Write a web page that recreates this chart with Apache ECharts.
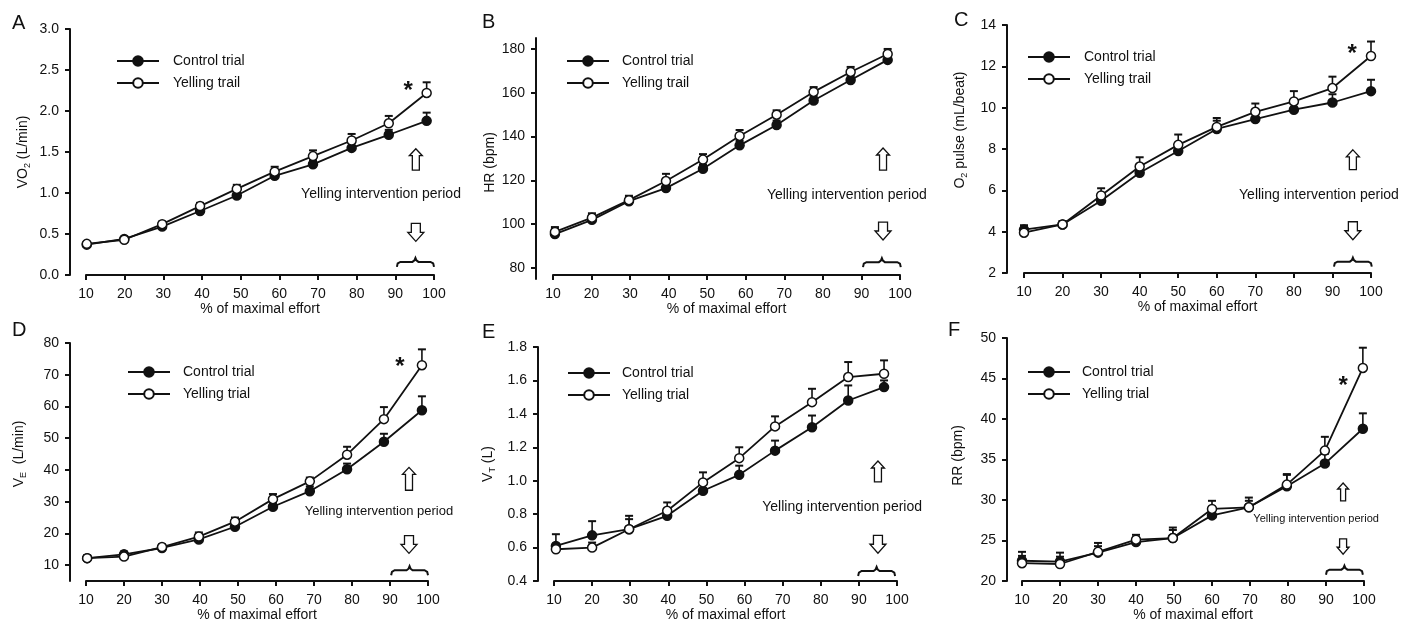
<!DOCTYPE html>
<html><head><meta charset="utf-8">
<script src="https://cdn.jsdelivr.net/npm/echarts@6/dist/echarts.min.js"></script>
<style>html,body{margin:0;padding:0;background:#fff}#c{width:1403px;height:623px}</style>
</head><body><div id="c"></div>
<script>
// ---------- DATA ----------
// Panel A: VO2 (L/min)
const A_x = [10.2, 19.9, 29.7, 39.5, 49.0, 58.8, 68.7, 78.7, 88.3, 98.1];
const A_control = [0.37, 0.44, 0.59, 0.78, 0.97, 1.21, 1.35, 1.55, 1.71, 1.88];
const A_controlSE = [0.02, 0.02, 0.03, 0.03, 0.04, 0.05, 0.05, 0.06, 0.06, 0.10];
const A_yelling = [0.38, 0.43, 0.62, 0.84, 1.05, 1.26, 1.45, 1.64, 1.85, 2.22];
const A_yellingSE = [0.02, 0.02, 0.03, 0.04, 0.05, 0.06, 0.07, 0.08, 0.09, 0.13];
const A_yTicks = [0, 0.5, 1.0, 1.5, 2.0, 2.5, 3.0];

// Panel B: HR (bpm)
const B_x = [10.5, 20.1, 29.7, 39.3, 48.9, 58.4, 68.0, 77.6, 87.2, 96.8];
const B_control = [95.5, 102.0, 110.5, 116.5, 125.3, 136.0, 145.3, 156.5, 165.8, 175.0];
const B_controlSE = [2.5, 2.0, 2.0, 2.0, 2.0, 2.0, 2.0, 2.0, 2.0, 2.0];
const B_yelling = [96.5, 103.0, 111.0, 119.7, 129.5, 140.3, 150.0, 160.4, 169.5, 177.7];
const B_yellingSE = [2.2, 2.0, 2.0, 3.3, 2.5, 2.7, 2.0, 2.2, 2.3, 2.3];
const B_yTicks = [80, 100, 120, 140, 160, 180];

// Panel C: O2 pulse (mL/beat)
const C_x = [10, 20, 30, 40, 50, 60, 70, 80, 90, 100];
const C_control = [4.10, 4.35, 5.50, 6.85, 7.90, 8.97, 9.45, 9.90, 10.25, 10.80];
const C_controlSE = [0.20, 0.15, 0.30, 0.40, 0.40, 0.53, 0.40, 0.40, 0.40, 0.55];
const C_yelling = [3.95, 4.35, 5.75, 7.15, 8.20, 9.07, 9.80, 10.30, 10.95, 12.50];
const C_yellingSE = [0.35, 0.15, 0.35, 0.45, 0.50, 0.30, 0.40, 0.50, 0.55, 0.70];
const C_yTicks = [2, 4, 6, 8, 10, 12, 14];

// Panel D: VE (L/min)
const D_x = [10.3, 20.0, 30.0, 39.7, 49.2, 59.2, 68.9, 78.7, 88.4, 98.4];
const D_control = [12.2, 13.4, 15.4, 18.1, 22.1, 28.4, 33.3, 40.2, 48.9, 58.8];
const D_controlSE = [0.8, 0.9, 0.8, 1.0, 1.2, 1.5, 1.5, 1.8, 2.5, 4.4];
const D_yelling = [12.2, 12.7, 15.7, 19.0, 23.7, 30.8, 36.4, 44.8, 56.0, 73.0];
const D_yellingSE = [0.8, 0.9, 0.8, 1.3, 1.3, 1.6, 1.2, 2.5, 3.8, 5.0];
const D_yTicks = [10, 20, 30, 40, 50, 60, 70, 80];

// Panel E: VT (L)
const E_x = [10.5, 20.0, 29.7, 39.7, 49.1, 58.6, 68.0, 77.7, 87.2, 96.6];
const E_control = [0.61, 0.673, 0.71, 0.79, 0.94, 1.035, 1.18, 1.32, 1.48, 1.56];
const E_controlSE = [0.07, 0.085, 0.06, 0.04, 0.04, 0.055, 0.06, 0.07, 0.09, 0.04];
const E_yelling = [0.59, 0.60, 0.71, 0.82, 0.99, 1.135, 1.325, 1.47, 1.62, 1.64];
const E_yellingSE = [0.03, 0.03, 0.08, 0.05, 0.06, 0.065, 0.06, 0.08, 0.09, 0.08];
const E_yTicks = [0.4, 0.6, 0.8, 1.0, 1.2, 1.4, 1.6, 1.8];

// Panel F: RR (bpm)
const F_x = [10, 20, 30, 40, 49.7, 60, 69.7, 79.7, 89.7, 99.7];
const F_control = [22.5, 22.4, 23.5, 24.8, 25.3, 28.1, 29.1, 31.7, 34.5, 38.8];
const F_controlSE = [1.1, 1.1, 0.8, 0.6, 1.3, 0.7, 0.8, 1.5, 1.2, 1.9];
const F_yelling = [22.2, 22.1, 23.6, 25.1, 25.3, 28.9, 29.1, 31.9, 36.1, 46.3];
const F_yellingSE = [0.9, 0.9, 1.1, 0.6, 1.0, 1.0, 1.2, 1.2, 1.7, 2.5];
const F_yTicks = [20, 25, 30, 35, 40, 45, 50];

const xTicks = [10, 20, 30, 40, 50, 60, 70, 80, 90, 100];
const xTitle = '% of maximal effort';
const controlName = 'Control trial';
const annText = 'Yelling intervention period';

// ---------- LAYOUT ----------
const FONT = '"Liberation Sans", Arial, Helvetica, sans-serif';
const INK = '#111';
const panels = [
  {letter:'A', lp:[12,13], x:A_x, c:A_control, cSE:A_controlSE, y:A_yelling, ySE:A_yellingSE, ticks:A_yTicks, dec:1,
   yMin:0, yMax:3, yName:'VO{s|2} (L/min)', yell:'Yelling trail', grid:{left:86, top:29, width:348, height:246},
   yOff:16, xOff:0, nameGap:40, namePad:[0,0,0,0], leg:{left:116, top:54, pad:9},
   ann:{fs:14, text:[86.3,0.99], up:[95.3,1.54,1.28], down:[95.3,0.63,0.41], brace:[90.4,100,0.16], star:[93.3,2.30], small:false}},
  {letter:'B', lp:[482,12], x:B_x, c:B_control, cSE:B_controlSE, y:B_yelling, ySE:B_yellingSE, ticks:B_yTicks, dec:0,
   yMin:75, yMax:185, yName:'HR (bpm)', yell:'Yelling trail', grid:{left:553, top:38, width:347, height:241},
   yOff:17, xOff:-4, nameGap:39, namePad:[0,8,0,0], leg:{left:566, top:54, pad:8},
   ann:{fs:14, text:[86.2,113.3], up:[95.6,134.8,124.7], down:[95.6,101,92.8], brace:[90.4,100.2,82.7], star:null, small:false}},
  {letter:'C', lp:[954,10], x:C_x, c:C_control, cSE:C_controlSE, y:C_yelling, ySE:C_yellingSE, ticks:C_yTicks, dec:0,
   yMin:2, yMax:14, yName:'O{s|2} pulse (mL/beat)', yell:'Yelling trail', grid:{left:1024, top:25, width:347, height:248},
   yOff:17, xOff:0, nameGap:40, namePad:[0,0,0,38], leg:{left:1027, top:50, pad:9},
   ann:{fs:14, text:[86.5,5.79], up:[95.3,7.96,7.0], down:[95.3,4.48,3.61], brace:[90.4,100.2,2.55], star:[95.1,12.8], small:false}},
  {letter:'D', lp:[12,320], x:D_x, c:D_control, cSE:D_controlSE, y:D_yelling, ySE:D_yellingSE, ticks:D_yTicks, dec:0,
   yMin:5, yMax:80, yName:'V{s|E}  (L/min)', yell:'Yelling trial', grid:{left:86, top:343, width:342, height:241},
   yOff:16, xOff:0, nameGap:44, namePad:[0,0,0,16], leg:{left:127, top:365, pad:8},
   ann:{fs:13, text:[87.1,26.8], up:[95,40.8,33.6], down:[95,19.3,13.7], brace:[90.3,100,8.4], star:[92.6,73.8], small:false}},
  {letter:'E', lp:[482,322], x:E_x, c:E_control, cSE:E_controlSE, y:E_yelling, ySE:E_yellingSE, ticks:E_yTicks, dec:1,
   yMin:0.4, yMax:1.8, yName:'V{s|T} (L)', yell:'Yelling trial', grid:{left:554, top:347, width:343, height:236},
   yOff:16, xOff:0, nameGap:43, namePad:[0,0,0,0], leg:{left:567, top:366, pad:7},
   ann:{fs:14, text:[85.6,0.839], up:[95,1.118,0.993], down:[95,0.673,0.566], brace:[89.8,99.5,0.46], star:null, small:false}},
  {letter:'F', lp:[948,320], x:F_x, c:F_control, cSE:F_controlSE, y:F_yelling, ySE:F_yellingSE, ticks:F_yTicks, dec:0,
   yMin:20, yMax:50, yName:'RR (bpm)', yell:'Yelling trial', grid:{left:1022, top:338, width:342, height:245},
   yOff:15, xOff:0, nameGap:42, namePad:[0,0,0,8], leg:{left:1027, top:365, pad:7},
   ann:{fs:11, text:[87.4,27.6], up:[94.5,32.1,29.9], down:[94.5,25.2,23.3], brace:[90,99.7,21.4], star:[94.5,44.7], small:true}}
];

const axisLineStyle = {color: INK, width: 2};
const option = {
  animation: false,
  backgroundColor: '#fff',
  textStyle: {fontFamily: FONT, color: INK},
  title: panels.map(p => ({text: p.letter, left: p.lp[0], top: p.lp[1], padding: 0,
    textStyle: {fontFamily: FONT, fontSize: 20, fontWeight: 'normal', color: INK}})),
  grid: panels.map(p => Object.assign({containLabel: false}, p.grid)),
  xAxis: panels.map((p, i) => ({
    type: 'value', gridIndex: i, min: 10, max: 100, interval: 10, offset: p.xOff,
    axisLine: {show: true, onZero: false, lineStyle: axisLineStyle},
    axisTick: {show: true, length: 5, lineStyle: axisLineStyle},
    axisLabel: {fontSize: 14, color: INK, fontFamily: FONT, margin: 12, customValues: xTicks},
    splitLine: {show: false},
    name: xTitle, nameLocation: 'middle', nameGap: 27,
    nameTextStyle: {fontSize: 14, color: INK, fontFamily: FONT}
  })),
  yAxis: panels.map((p, i) => ({
    type: 'value', gridIndex: i, min: p.yMin, max: p.yMax, offset: p.yOff,
    axisLine: {show: true, onZero: false, lineStyle: axisLineStyle},
    axisTick: {show: true, length: 5, lineStyle: axisLineStyle, customValues: p.ticks},
    axisLabel: {fontSize: 14, color: INK, fontFamily: FONT, margin: 11, customValues: p.ticks,
      formatter: v => Number(v).toFixed(p.dec)},
    splitLine: {show: false},
    name: p.yName, nameLocation: 'middle', nameGap: p.nameGap,
    nameTextStyle: {fontSize: 14, color: INK, fontFamily: FONT, padding: p.namePad,
      rich: {s: {fontSize: 9, color: INK, fontFamily: FONT, verticalAlign: 'bottom', padding: [0, 0, -2, 0]}}}
  })),
  legend: panels.map(p => ({
    left: p.leg.left, top: p.leg.top, orient: 'vertical', selectedMode: false,
    itemWidth: 42, itemHeight: 12, itemGap: 8, padding: 0,
    data: [controlName, p.yell],
    textStyle: {fontSize: 14, lineHeight: 14, color: INK, fontFamily: FONT, padding: [0, 0, 0, p.leg.pad]}
  })),
  series: []
};

function errSeries(i, xs, ys, es) {
  return {
    type: 'custom', xAxisIndex: i, yAxisIndex: i, z: 1, silent: true,
    data: xs.map((x, k) => [x, ys[k], es[k]]),
    encode: {x: 0, y: 1},
    renderItem: function (params, api) {
      const p0 = api.coord([api.value(0), api.value(1)]);
      const p1 = api.coord([api.value(0), api.value(1) + api.value(2)]);
      return {type: 'group', children: [
        {type: 'line', shape: {x1: p0[0], y1: p0[1], x2: p1[0], y2: p1[1]}, style: {stroke: INK, lineWidth: 1.6}},
        {type: 'line', shape: {x1: p1[0] - 4, y1: p1[1], x2: p1[0] + 4, y2: p1[1]}, style: {stroke: INK, lineWidth: 2}}
      ]};
    }
  };
}
function lineSeries(i, name, xs, ys, filled, z) {
  return {
    type: 'line', name: name, xAxisIndex: i, yAxisIndex: i, z: z,
    data: xs.map((x, k) => [x, ys[k]]),
    symbol: 'circle', symbolSize: 9, showSymbol: true,
    lineStyle: {color: INK, width: 1.8},
    itemStyle: {color: filled ? INK : '#fff', borderColor: INK, borderWidth: 1.5},
    emphasis: {disabled: true}
  };
}
panels.forEach((p, i) => {
  option.series.push(errSeries(i, p.x, p.c, p.cSE));
  option.series.push(errSeries(i, p.x, p.y, p.ySE));
  option.series.push(lineSeries(i, controlName, p.x, p.c, true, 2));
  option.series.push(lineSeries(i, p.yell, p.x, p.y, false, 3));
});

const chart = echarts.init(document.getElementById('c'), null, {renderer: 'canvas'});
chart.setOption(option);

// ---------- ANNOTATIONS (anchored in data space) ----------
function upArrow(cx, top, bottom, hw, hh, sw) {
  return {type: 'polygon', z: 10, shape: {points: [[cx, top], [cx + hw, top + hh], [cx + sw, top + hh], [cx + sw, bottom],
    [cx - sw, bottom], [cx - sw, top + hh], [cx - hw, top + hh]]}, style: {fill: '#fff', stroke: INK, lineWidth: 1.3}};
}
function downArrow(cx, top, bottom, hw, hh, sw) {
  return {type: 'polygon', z: 10, shape: {points: [[cx - sw, top], [cx + sw, top], [cx + sw, bottom - hh], [cx + hw, bottom - hh],
    [cx, bottom], [cx - hw, bottom - hh], [cx - sw, bottom - hh]]}, style: {fill: '#fff', stroke: INK, lineWidth: 1.3}};
}
function brace(x0, x1, y) {
  const m = (x0 + x1) / 2;
  return {type: 'polyline', z: 10, shape: {points: [[x0, y + 5], [x0 + 0.8, y + 1.6], [x0 + 3.5, y], [m - 3, y], [m - 1, y - 1.5],
    [m, y - 4], [m + 1, y - 1.5], [m + 3, y], [x1 - 3.5, y], [x1 - 0.8, y + 1.6], [x1, y + 5]]},
    style: {fill: null, stroke: INK, lineWidth: 2}};
}
const graphics = [];
panels.forEach((p, i) => {
  const P = v => chart.convertToPixel({gridIndex: i}, v);
  const a = p.ann;
  const t = P(a.text);
  graphics.push({type: 'text', z: 10, x: t[0], y: t[1], style: {text: annText, fill: INK,
    font: a.fs + 'px ' + FONT, textAlign: 'center', textVerticalAlign: 'middle', align: 'center', verticalAlign: 'middle'}});
  const u0 = P([a.up[0], a.up[1]]), u1 = P([a.up[0], a.up[2]]);
  const d0 = P([a.down[0], a.down[1]]), d1 = P([a.down[0], a.down[2]]);
  if (a.small) {
    graphics.push(upArrow(u0[0], u0[1], u1[1], 5.5, 6, 2.5));
    graphics.push(downArrow(d0[0], d0[1], d1[1], 6, 7, 3.5));
  } else {
    graphics.push(upArrow(u0[0], u0[1], u1[1], 6.5, 7, 3.5));
    graphics.push(downArrow(d0[0], d0[1], d1[1], 8, 9, 4.5));
  }
  const b0 = P([a.brace[0], a.brace[2]]), b1 = P([a.brace[1], a.brace[2]]);
  graphics.push(brace(b0[0], b1[0], b0[1]));
  if (a.star) {
    const s = P(a.star);
    graphics.push({type: 'text', z: 10, x: s[0], y: s[1] + 5, style: {text: '*', fill: INK,
      font: 'bold 24px ' + FONT, textAlign: 'center', textVerticalAlign: 'middle', align: 'center', verticalAlign: 'middle'}});
  }
});
chart.setOption({graphic: graphics});
</script>
</body></html>
